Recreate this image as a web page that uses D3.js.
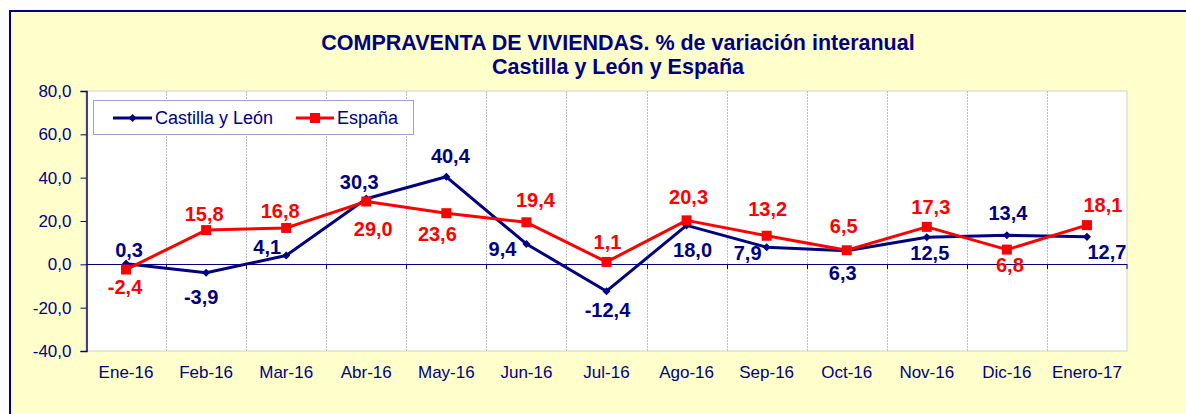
<!DOCTYPE html>
<html>
<head>
<meta charset="utf-8">
<script src="https://cdn.jsdelivr.net/npm/d3@7"></script>
<style>
    body { margin: 0; background: #ffffff; }
    svg { display: block; font-family: "Liberation Sans", Arial, sans-serif; }
</style>
</head>
<body>
<svg width="1186" height="414"></svg>
<script>
const categories = ["Ene-16", "Feb-16", "Mar-16", "Abr-16", "May-16", "Jun-16", "Jul-16",
                    "Ago-16", "Sep-16", "Oct-16", "Nov-16", "Dic-16", "Enero-17"];
const castillaLeon = [0.3, -3.9, 4.1, 30.3, 40.4, 9.4, -12.4, 18.0, 7.9, 6.3, 12.5, 13.4, 12.7];
const espana = [-2.4, 15.8, 16.8, 29.0, 23.6, 19.4, 1.1, 20.3, 13.2, 6.5, 17.3, 6.8, 18.1];
const yTicks = [-40, -20, 0, 20, 40, 60, 80];
const seriesNames = ["Castilla y León", "España"];
const titleLines = ["COMPRAVENTA DE VIVIENDAS. % de variación interanual", "Castilla y León y España"];

// where each value label sits relative to its point (dx, dy of the text centre)
const labelOffsetCyl = [[3, -14], [-5, 24], [-19, -8], [-7, -17], [4, -21], [-24, 5], [1, 19],
                        [6, 25], [-19, 6], [-4, 22], [3, 16], [1, -22], [20, 15]];
const labelOffsetEsp = [[-1, 17], [-2, -16], [-6, -17], [7, 27], [-9, 21], [9, -22], [1, -20],
                        [2, -23], [1, -27], [-3, -24], [4, -20], [3, 15], [16, -20]];

const navy = "#000080";
const red = "#ff0000";

const locale = d3.formatLocale({decimal: ",", thousands: ".", grouping: [3], currency: ["", "€"], minus: "-"});
const fmt = locale.format(".1f");

const svg = d3.select("svg");

const area = {left: 86, top: 91, right: 1127, bottom: 351};

// frame
svg.append("rect")
   .attr("x", 10).attr("y", 11)
   .attr("width", 1300).attr("height", 500)
   .style("fill", "#ffffcc")
   .style("stroke", navy)
   .style("stroke-width", 2);

svg.append("rect")
   .attr("x", area.left).attr("y", area.top)
   .attr("width", area.right - area.left).attr("height", area.bottom - area.top)
   .style("fill", "#ffffff")
   .style("stroke", "#d0d0d0")
   .style("stroke-width", 1);

const scaleX = d3.scaleBand()
                 .domain(categories)
                 .range([area.left, area.right]);

const scaleY = d3.scaleLinear()
                 .domain([-40, 80])
                 .range([area.bottom, area.top]);

// vertical gridlines at category boundaries
svg.selectAll(".grid")
   .data(categories.slice(1))
   .enter()
   .append("line")
   .attr("x1", d => Math.round(scaleX(d)) + 0.5)
   .attr("x2", d => Math.round(scaleX(d)) + 0.5)
   .attr("y1", area.top)
   .attr("y2", area.bottom)
   .style("stroke", "#bcbcbc")
   .style("stroke-dasharray", "2,1");

// zero line with small ticks
svg.append("line")
   .attr("x1", area.left).attr("x2", area.right)
   .attr("y1", Math.round(scaleY(0)) + 0.5).attr("y2", Math.round(scaleY(0)) + 0.5)
   .style("stroke", navy);

svg.selectAll(".ztick")
   .data(categories.slice(1).concat(["__end"]))
   .enter()
   .append("line")
   .attr("x1", d => d == "__end" ? area.right : Math.round(scaleX(d)) + 0.5)
   .attr("x2", d => d == "__end" ? area.right : Math.round(scaleX(d)) + 0.5)
   .attr("y1", Math.round(scaleY(0)))
   .attr("y2", Math.round(scaleY(0)) + 5)
   .style("stroke", navy);

// y axis
const axisY = d3.axisLeft(scaleY)
                .tickValues(yTicks)
                .tickFormat(fmt)
                .tickSize(6)
                .tickPadding(9);

const gY = svg.append("g")
              .attr("transform", `translate(${area.left + 0.5}, 0)`)
              .call(axisY);
gY.select(".domain").style("stroke", navy).style("stroke-width", 1.5);
gY.selectAll(".tick line").style("stroke", navy);
gY.selectAll(".tick text")
  .style("font-size", "17px")
  .style("fill", navy)
  .style("font-family", "Liberation Sans, Arial, sans-serif");

// x labels
svg.selectAll(".xlabel")
   .data(categories)
   .enter()
   .append("text")
   .attr("x", d => scaleX(d) + scaleX.bandwidth() / 2)
   .attr("y", 378)
   .attr("text-anchor", "middle")
   .style("font-size", "17px")
   .style("fill", navy)
   .text(d => d);

// title
svg.selectAll(".title")
   .data(titleLines)
   .enter()
   .append("text")
   .attr("x", 618)
   .attr("y", (d, i) => 50 + i * 24)
   .attr("text-anchor", "middle")
   .style("font-size", "21.5px")
   .style("font-weight", "bold")
   .style("fill", navy)
   .text(d => d);

// lines
const cx = i => scaleX(categories[i]) + scaleX.bandwidth() / 2;

const line = d3.line()
               .x((d, i) => cx(i))
               .y(d => scaleY(d));

const series = [
    {name: seriesNames[0], values: castillaLeon, color: navy, symbol: d3.symbolDiamond2, size: 42, offsets: labelOffsetCyl},
    {name: seriesNames[1], values: espana, color: red, symbol: d3.symbolSquare, size: 100, offsets: labelOffsetEsp}
];

series.forEach(s => {
    svg.append("path")
       .datum(s.values)
       .attr("d", line)
       .style("fill", "none")
       .style("stroke", s.color)
       .style("stroke-width", 3)
       .style("stroke-linejoin", "round");
});

series.forEach(s => {
    svg.selectAll(null)
       .data(s.values)
       .enter()
       .append("path")
       .attr("d", d3.symbol(s.symbol, s.size))
       .attr("transform", (d, i) => `translate(${cx(i)}, ${scaleY(d)})`)
       .style("fill", s.color);
});

series.forEach(s => {
    svg.selectAll(null)
       .data(s.values)
       .enter()
       .append("text")
       .attr("x", (d, i) => cx(i) + s.offsets[i][0])
       .attr("y", (d, i) => scaleY(d) + s.offsets[i][1] + 7)
       .attr("text-anchor", "middle")
       .style("font-size", "20px")
       .style("font-weight", "bold")
       .style("fill", s.color)
       .text(d => fmt(d));
});

// legend
const legend = svg.append("g");
legend.append("rect")
      .attr("x", 93.5).attr("y", 100.5)
      .attr("width", 320).attr("height", 34)
      .style("fill", "#ffffff")
      .style("stroke", "#a0a0c8");

const legendItems = [
    {x1: 113, x2: 152, tx: 155, s: series[0]},
    {x1: 296, x2: 334, tx: 337, s: series[1]}
];

legendItems.forEach(it => {
    legend.append("line")
          .attr("x1", it.x1).attr("x2", it.x2)
          .attr("y1", 118).attr("y2", 118)
          .style("stroke", it.s.color)
          .style("stroke-width", 3);
    legend.append("path")
          .attr("d", d3.symbol(it.s.symbol, it.s.size))
          .attr("transform", `translate(${(it.x1 + it.x2) / 2}, 118)`)
          .style("fill", it.s.color);
    legend.append("text")
          .attr("x", it.tx)
          .attr("y", 124)
          .style("font-size", "18px")
          .style("fill", navy)
          .text(it.s.name);
});
</script>
</body>
</html>
